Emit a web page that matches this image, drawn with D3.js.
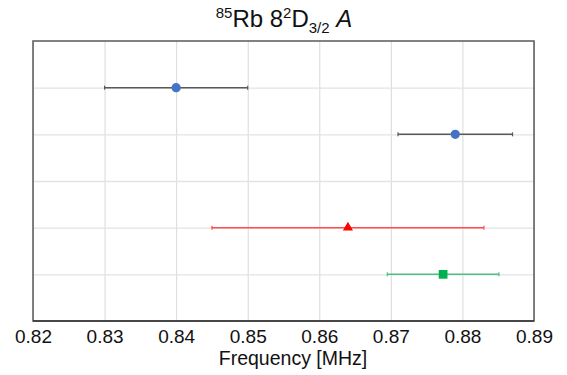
<!DOCTYPE html>
<html lang="en">

<head>
    <meta charset="UTF-8">
    <title>85Rb 8 2D3/2 A</title>
    <script src="https://cdnjs.cloudflare.com/ajax/libs/d3/7.8.5/d3.min.js"></script>
    <style>
        body { margin: 0; background: #fff; }
        svg { display: block; font-family: "Liberation Sans", Arial, sans-serif; }
    </style>
</head>

<body>
    <script>
        // rows counted from the bottom of the plot
        const rows = [5, 4, 2, 1];
        const values = [0.840, 0.879, 0.864, 0.8773];
        const errors = [0.010, 0.008, 0.019, 0.0078];
        const series = ['blue', 'blue', 'red', 'green'];
        const xTicks = [0.82, 0.83, 0.84, 0.85, 0.86, 0.87, 0.88, 0.89];
        const rowTicks = [1, 2, 3, 4, 5];

        const styles = {
            blue: { marker: 'circle', fill: '#4472c4', bar: '#595959' },
            red: { marker: 'triangle', fill: '#ff0000', bar: '#ff4d4d' },
            green: { marker: 'square', fill: '#00b050', bar: '#4cc083' }
        };

        const w = 567;
        const h = 375;
        const padL = 33, padR = 534, padT = 41, padB = 321;

        const xScale = d3.scaleLinear().domain([0.82, 0.89]).range([padL, padR]);
        const yScale = d3.scaleLinear().domain([0, 6]).range([padB, padT]);

        const svg = d3.select('body').append('svg')
            .attr('width', w)
            .attr('height', h);

        // grid
        svg.append('g')
            .attr('transform', `translate(0, ${padB})`)
            .call(d3.axisBottom(xScale).tickValues(xTicks).tickSize(-(padB - padT)).tickFormat(''))
            .call(g => g.select('.domain').remove())
            .call(g => g.selectAll('line').attr('stroke', '#d9d9d9').attr('stroke-width', 1));

        svg.append('g')
            .attr('transform', `translate(${padL}, 0)`)
            .call(d3.axisLeft(yScale).tickValues(rowTicks).tickSize(-(padR - padL)).tickFormat(''))
            .call(g => g.select('.domain').remove())
            .call(g => g.selectAll('line').attr('stroke', '#e3e3e3').attr('stroke-width', 1.3));

        // tick labels
        svg.append('g')
            .attr('transform', `translate(0, ${padB})`)
            .call(d3.axisBottom(xScale).tickValues(xTicks).tickSize(0).tickPadding(9).tickFormat(d3.format('.2f')))
            .call(g => g.select('.domain').remove())
            .call(g => g.selectAll('text')
                .attr('fill', '#111')
                .style('font-size', '19px')
                .style('font-family', '"Liberation Sans", Arial, sans-serif'));

        // frame
        svg.append('rect')
            .attr('x', padL)
            .attr('y', padT)
            .attr('width', padR - padL)
            .attr('height', padB - padT)
            .attr('fill', 'none')
            .attr('stroke', '#595959')
            .attr('stroke-width', 1.5);

        svg.append('line')
            .attr('x1', padL).attr('x2', padR)
            .attr('y1', padB).attr('y2', padB)
            .attr('stroke', '#333')
            .attr('stroke-width', 1.5);

        const data = values.map((v, i) => ({ v, e: errors[i], row: rows[i], s: series[i] }));

        // error bars
        const eb = svg.append('g').selectAll('g')
            .data(data)
            .enter()
            .append('g');

        eb.append('line')
            .attr('x1', d => xScale(d.v - d.e))
            .attr('x2', d => xScale(d.v + d.e))
            .attr('y1', d => yScale(d.row))
            .attr('y2', d => yScale(d.row))
            .attr('stroke', d => styles[d.s].bar)
            .attr('stroke-width', 1.5);

        eb.selectAll('.cap')
            .data(d => [d.v - d.e, d.v + d.e].map(x => ({ x, d })))
            .enter()
            .append('line')
            .attr('class', 'cap')
            .attr('x1', c => xScale(c.x))
            .attr('x2', c => xScale(c.x))
            .attr('y1', c => yScale(c.d.row) - 2)
            .attr('y2', c => yScale(c.d.row) + 2)
            .attr('stroke', c => styles[c.d.s].bar)
            .attr('stroke-width', 1.2);

        // markers
        const symbolType = { circle: d3.symbolCircle, triangle: d3.symbolTriangle, square: d3.symbolSquare };
        const symbolSize = { circle: 68, triangle: 44, square: 76 };

        svg.append('g').selectAll('path')
            .data(data)
            .enter()
            .append('path')
            .attr('transform', d => `translate(${xScale(d.v)}, ${yScale(d.row)})`)
            .attr('d', d => d3.symbol().type(symbolType[styles[d.s].marker]).size(symbolSize[styles[d.s].marker])())
            .attr('fill', d => styles[d.s].fill);

        // title
        const title = svg.append('text')
            .attr('x', 284)
            .attr('y', 27)
            .attr('text-anchor', 'middle')
            .attr('fill', '#111')
            .style('font-size', '24px');
        title.append('tspan').attr('dy', -9).style('font-size', '15px').text('85');
        title.append('tspan').attr('dy', 9).text('Rb 8');
        title.append('tspan').attr('dy', -9).style('font-size', '15px').text('2');
        title.append('tspan').attr('dy', 9).text('D');
        title.append('tspan').attr('dy', 6).style('font-size', '15px').text('3/2');
        title.append('tspan').attr('dy', -6).text(' ');
        title.append('tspan').style('font-style', 'italic').text('A');

        // axis title
        svg.append('text')
            .attr('x', 293)
            .attr('y', 365)
            .attr('text-anchor', 'middle')
            .attr('fill', '#111')
            .style('font-size', '19.5px')
            .text('Frequency [MHz]');
    </script>
</body>

</html>
